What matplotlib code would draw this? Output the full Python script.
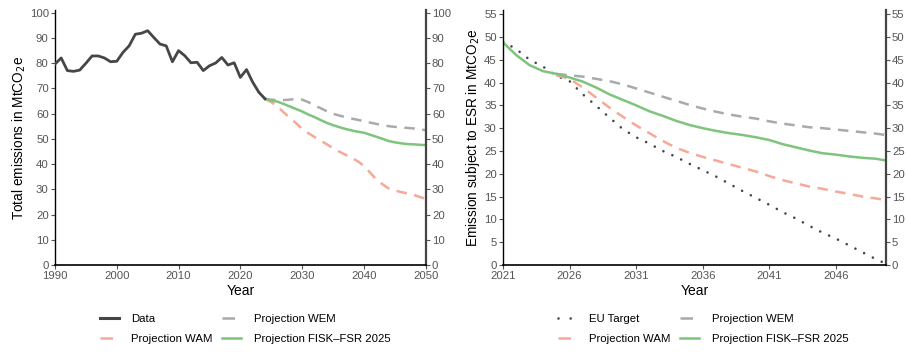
import matplotlib
matplotlib.use("Agg")
import matplotlib.pyplot as plt
from matplotlib.lines import Line2D
import numpy as np

plt.rcParams['font.family'] = ['Liberation Sans', 'DejaVu Sans']

# ---------- Left panel data ----------
hist_years = list(range(1990, 2025))
hist_vals = [79.6, 82.0, 77.0, 76.7, 77.2, 79.9, 82.8, 82.8, 82.0, 80.5,
             80.7, 84.2, 86.8, 91.4, 91.8, 92.8, 90.1, 87.5, 86.8, 80.5,
             84.9, 82.9, 80.1, 80.3, 77.0, 78.9, 80.0, 82.2, 79.2, 80.1,
             74.3, 77.4, 72.4, 68.4, 65.8]

proj_years = list(range(2024, 2051))
wem_left = [65.8, 65.5, 65.3, 65.3, 65.5, 65.8, 65.5, 64.5, 63.2, 62.1,
            60.9, 59.9, 59.2, 58.6, 58.0, 57.5, 57.0, 56.4, 55.9, 55.4,
            55.0, 54.7, 54.5, 54.3, 54.1, 53.8, 53.4]
wam_left = [65.8, 64.5, 62.8, 60.5, 58.3, 56.2, 53.9, 52.2, 50.7, 49.3,
            47.8, 46.3, 44.9, 43.7, 42.5, 41.1, 39.2, 36.6, 33.9, 32.0,
            30.3, 29.5, 28.9, 28.4, 27.8, 27.0, 26.2]
fisk_left = [65.8, 65.1, 64.7, 63.8, 62.8, 61.8, 60.8, 59.6, 58.6, 57.4,
             56.3, 55.4, 54.6, 53.9, 53.3, 52.8, 52.4, 51.6, 50.8, 50.0,
             49.1, 48.6, 48.2, 47.9, 47.8, 47.6, 47.5]

# ---------- Right panel data ----------
esr_years = list(range(2021, 2051))
eu_target = [49.0, 47.3, 45.0, 43.5, 41.5, 40.3, 37.4, 34.9, 32.3, 29.8,
             28.0, 26.6, 25.0, 23.7, 22.2, 20.8, 19.4, 17.8, 16.2, 14.7,
             13.2, 11.6, 10.2, 8.6, 7.1, 5.8, 4.3, 2.8, 1.3, 0.0]
fisk_right = [48.8, 46.0, 43.8, 42.5, 41.9, 41.1, 40.2, 38.9, 37.4, 36.2,
              35.0, 33.7, 32.7, 31.6, 30.7, 30.0, 29.4, 28.9, 28.5, 28.0,
              27.4, 26.5, 25.8, 25.1, 24.5, 24.2, 23.8, 23.5, 23.3, 22.8]
proj_r_years = list(range(2025, 2051))
wem_right = [41.9, 41.6, 41.3, 40.8, 40.3, 39.6, 38.7, 37.8, 36.9, 36.0,
             35.1, 34.3, 33.6, 33.0, 32.5, 32.1, 31.5, 31.0, 30.6, 30.2,
             30.0, 29.7, 29.4, 29.1, 28.8, 28.4]
wam_right = [41.6, 40.8, 38.9, 36.7, 34.5, 32.5, 30.6, 28.9, 27.2, 25.7,
             24.6, 23.7, 22.9, 22.1, 21.3, 20.5, 19.5, 18.6, 17.9, 17.2,
             16.7, 16.1, 15.6, 15.0, 14.6, 14.1]

C_DATA = '#464646'
C_WEM = '#a8abaa'
C_WAM = '#f7a898'
C_FISK = '#7fc47d'
C_TICK = '#555555'

fig = plt.figure(figsize=(9.07, 3.54), dpi=100)
axL = fig.add_axes([55/907, 1-265/354, (425.7-55)/907, (265-10)/354])
axR = fig.add_axes([503/907, 1-265/354, (885.7-503)/907, (265-10)/354])

lw = 1.8
dash = (0, (4.2, 3.0))
dots = (0, (0.01, 3.7))

def style(ax, yticks, ylim, xticks, xlim, ylabel):
    ax.set_xlim(*xlim)
    ax.set_ylim(*ylim)
    ax.set_xticks(xticks)
    ax.set_yticks(yticks)
    ax.tick_params(axis='both', labelsize=8.2, colors=C_TICK, length=3,
                   width=0.8, pad=1.5)
    ax.tick_params(axis='y', right=True, labelright=True)
    ax.spines['top'].set_visible(False)
    ax.spines['left'].set_color('black')
    ax.spines['left'].set_linewidth(1.0)
    ax.spines['bottom'].set_color('black')
    ax.spines['bottom'].set_linewidth(1.2)
    ax.spines['right'].set_color('#444444')
    ax.spines['right'].set_linewidth(1.6)
    ax.set_xlabel('Year', fontsize=10, labelpad=2)
    ax.set_ylabel(ylabel, fontsize=9.8, labelpad=1.5)

# Left
axL.plot(hist_years, hist_vals, color=C_DATA, lw=2.0,
         solid_joinstyle='round', zorder=5)
axL.plot(proj_years, wem_left, color=C_WEM, lw=lw, ls=dash)
axL.plot(proj_years, wam_left, color=C_WAM, lw=lw, ls=dash)
axL.plot(proj_years, fisk_left, color=C_FISK, lw=lw)
style(axL, np.arange(0, 101, 10), (0, 101), np.arange(1990, 2051, 10), (1990, 2050),
      'Total emissions in MtCO$_2$e')

# Right
axR.plot(esr_years, eu_target, color=C_DATA, lw=1.9, ls=dots,
         dash_capstyle='round')
axR.plot(proj_r_years, wem_right, color=C_WEM, lw=lw, ls=dash)
axR.plot(proj_r_years, wam_right, color=C_WAM, lw=lw, ls=dash)
axR.plot(esr_years, fisk_right, color=C_FISK, lw=lw)
style(axR, np.arange(0, 56, 5), (0, 55.9), np.arange(2021, 2050, 5), (2021, 2049.75),
      'Emission subject to ESR in MtCO$_2$e')

leg_dash = (0, (5.0, 10.0))
def h_solid(c, w=lw):
    return Line2D([], [], color=c, lw=w)
def h_dash(c):
    return Line2D([], [], color=c, lw=lw, ls=leg_dash)

def legend(handles, labels, x):
    fig.legend(handles, labels, loc='center', bbox_to_anchor=(x, 1-329/354), ncol=2,
               frameon=False, fontsize=8.2, handlelength=1.7, handletextpad=1.1,
               columnspacing=0.8, labelspacing=0.95)

legend([h_solid(C_DATA, 2.2), h_dash(C_WAM), h_dash(C_WEM), h_solid(C_FISK)],
       ['Data', 'Projection WAM', 'Projection WEM', 'Projection FISK\u2013FSR 2025'],
       245/907)
eu_h = Line2D([], [], color=C_DATA, lw=1.9, ls=(0, (0.01, 4.6)), dash_capstyle='round')
legend([eu_h, h_dash(C_WAM), h_dash(C_WEM), h_solid(C_FISK)],
       ['EU Target', 'Projection WAM', 'Projection WEM', 'Projection FISK\u2013FSR 2025'],
       703/907)

fig.savefig('out.png', dpi=100)
